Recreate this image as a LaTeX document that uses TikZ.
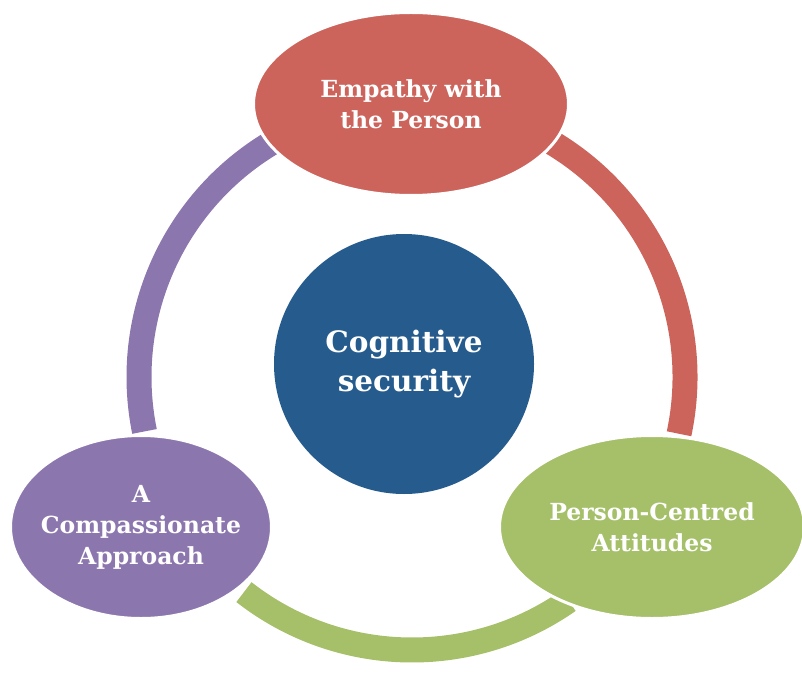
\documentclass[tikz,border=0pt]{standalone}
\usepackage{fontspec}
\setmainfont{DejaVu Serif}
\usetikzlibrary{shapes.geometric}
\definecolor{cRed}{HTML}{CC645C}
\definecolor{cGreen}{HTML}{A5C069}
\definecolor{cPurple}{HTML}{8C76AE}
\definecolor{cBlue}{HTML}{265B8D}
\begin{document}
\begin{tikzpicture}[x=1pt,y=1pt,
  ringarc/.style={line width=25pt, line cap=butt},
  bubble/.style={ellipse, draw=white, line width=3pt, inner sep=-30pt,
    text=white, font=\bfseries\fontsize{23.5}{31}\selectfont, align=center},
  hub/.style={circle, fill=cBlue, inner sep=0pt, minimum size=260pt,
    text=white, font=\bfseries\fontsize{29.5}{39}\selectfont, align=center}]
\useasboundingbox (0,0) rectangle (802,673);
\coordinate (ringc) at (412,296);
% connecting ring segments
\draw[ringarc, cPurple] (ringc) ++(121:273) arc[start angle=121, end angle=191.5, radius=273];
\draw[ringarc, cRed] (ringc) ++(59:273) arc[start angle=59, end angle=-12, radius=273];
\draw[ringarc, cGreen] (ringc) ++(-128:273) arc[start angle=-128, end angle=-55, radius=273];
% central idea
\node[hub] (core) at (404,309) {Cognitive\\security};
% outer ideas
\node[bubble, fill=cRed, minimum width=315pt, minimum height=183pt] (empathy) at (411,569) {Empathy with\\the Person};
\node[bubble, fill=cPurple, minimum width=261pt, minimum height=183pt] (compassion) at (141,146) {A\\Compassionate\\Approach};
\node[bubble, fill=cGreen, minimum width=305pt, minimum height=183pt] (attitudes) at (652,146) {Person-Centred\\Attitudes};
\end{tikzpicture}
\end{document}
